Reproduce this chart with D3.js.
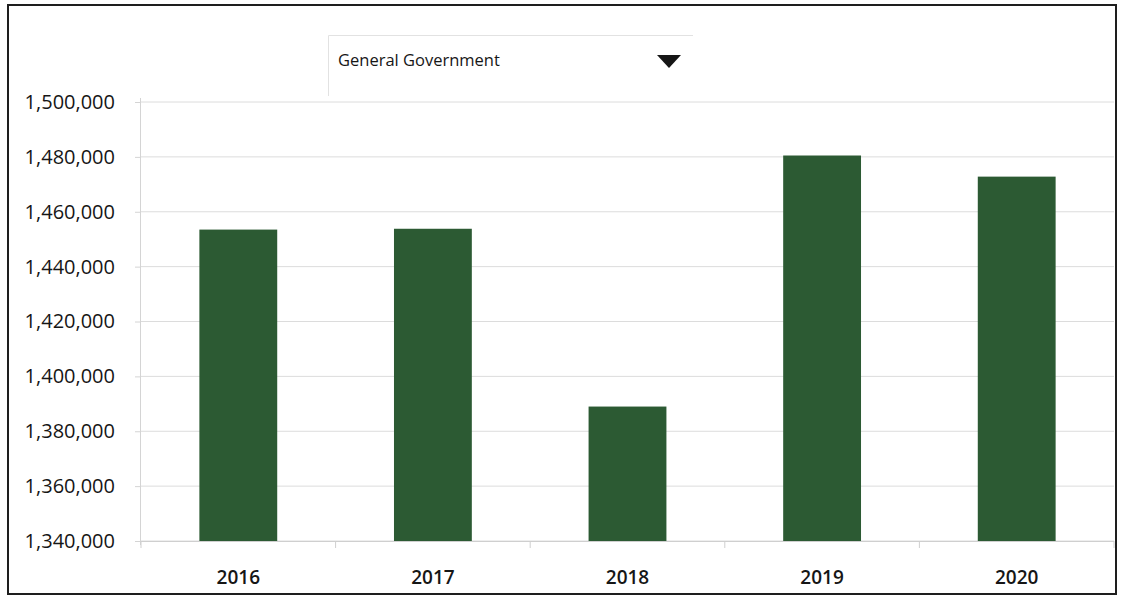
<!DOCTYPE html>
<html>
<head>
<meta charset="utf-8">
<script src="https://cdn.jsdelivr.net/npm/d3@7"></script>
<style>
  html, body { margin: 0; padding: 0; background: #fff; }
  svg { display: block; font-family: "Open Sans", "DejaVu Sans", sans-serif; }
</style>
</head>
<body>
<svg id="chart" width="1124" height="596"></svg>
<script>
// Annual totals for the selected sector
const years = ["2016", "2017", "2018", "2019", "2020"];
const totals = [1453500, 1453800, 1389000, 1480500, 1472800];
const yTicks = [1340000, 1360000, 1380000, 1400000, 1420000, 1440000, 1460000, 1480000, 1500000];
const sectorLabel = "General Government";

const svg = d3.select("#chart");
const plot = { left: 141, right: 1114, top: 102, bottom: 541 };

// outer frame
svg.append("rect")
  .attr("x", 8).attr("y", 5).attr("width", 1108).attr("height", 589)
  .attr("fill", "none").attr("stroke", "#1e1e1e").attr("stroke-width", 2);

const x = d3.scaleBand().domain(years)
  .range([plot.left, plot.right]).paddingInner(0.6).paddingOuter(0.3);
const y = d3.scaleLinear().domain([1340000, 1500000]).range([plot.bottom, plot.top]);

// horizontal gridlines
svg.append("g").selectAll("line").data(yTicks).join("line")
  .attr("x1", plot.left).attr("x2", plot.right)
  .attr("y1", d => y(d)).attr("y2", d => y(d))
  .attr("stroke", "#dcdcdc").attr("stroke-width", 1);

// y axis
const yAxis = d3.axisLeft(y).tickValues(yTicks).tickFormat(d3.format(",")).tickSize(6).tickPadding(20);
const gy = svg.append("g").attr("transform", `translate(${plot.left},0)`).call(yAxis);
gy.select(".domain").attr("stroke", "#d4d4d4").attr("d", `M-0.5,${plot.top - 4}V${plot.bottom + 4}`);
gy.selectAll(".tick line").attr("stroke", "#d4d4d4");
gy.selectAll(".tick text").attr("fill", "#161616").style("font-size", "20px")
  .style("font-weight", 500).attr("font-family", "'Open Sans', sans-serif");

// bars
svg.append("g").selectAll("rect").data(years).join("rect")
  .attr("x", d => x(d)).attr("width", x.bandwidth())
  .attr("y", (d, i) => y(totals[i]))
  .attr("height", (d, i) => y(1340000) - y(totals[i]))
  .attr("fill", "#2c5a33");

// x axis baseline with ticks at category boundaries
const step = x.step();
const boundaries = d3.range(years.length + 1).map(i => plot.left + i * step);
const gx = svg.append("g");
gx.append("line").attr("x1", plot.left).attr("x2", plot.right)
  .attr("y1", plot.bottom + 0.5).attr("y2", plot.bottom + 0.5)
  .attr("stroke", "#cfcfcf");
gx.selectAll("line.bt").data(boundaries).join("line").attr("class", "bt")
  .attr("x1", d => d).attr("x2", d => d)
  .attr("y1", plot.bottom).attr("y2", plot.bottom + 7)
  .attr("stroke", "#cfcfcf");
gx.selectAll("text").data(years).join("text")
  .attr("x", d => x(d) + x.bandwidth() / 2).attr("y", 584)
  .attr("text-anchor", "middle")
  .attr("fill", "#161616").style("font-size", "19px").style("font-weight", 600)
  .text(d => d);

// sector selector
const dd = svg.append("g");
dd.append("path").attr("d", "M328.5,96V35.5H693").attr("fill", "none").attr("stroke", "#e2e2e2");
dd.append("text").attr("x", 338).attr("y", 66)
  .style("font-size", "16.5px").style("font-weight", 500).attr("fill", "#161616").text(sectorLabel);
dd.append("path").attr("d", "M657,55H681L669,68Z").attr("fill", "#161616");
</script>
</body>
</html>
